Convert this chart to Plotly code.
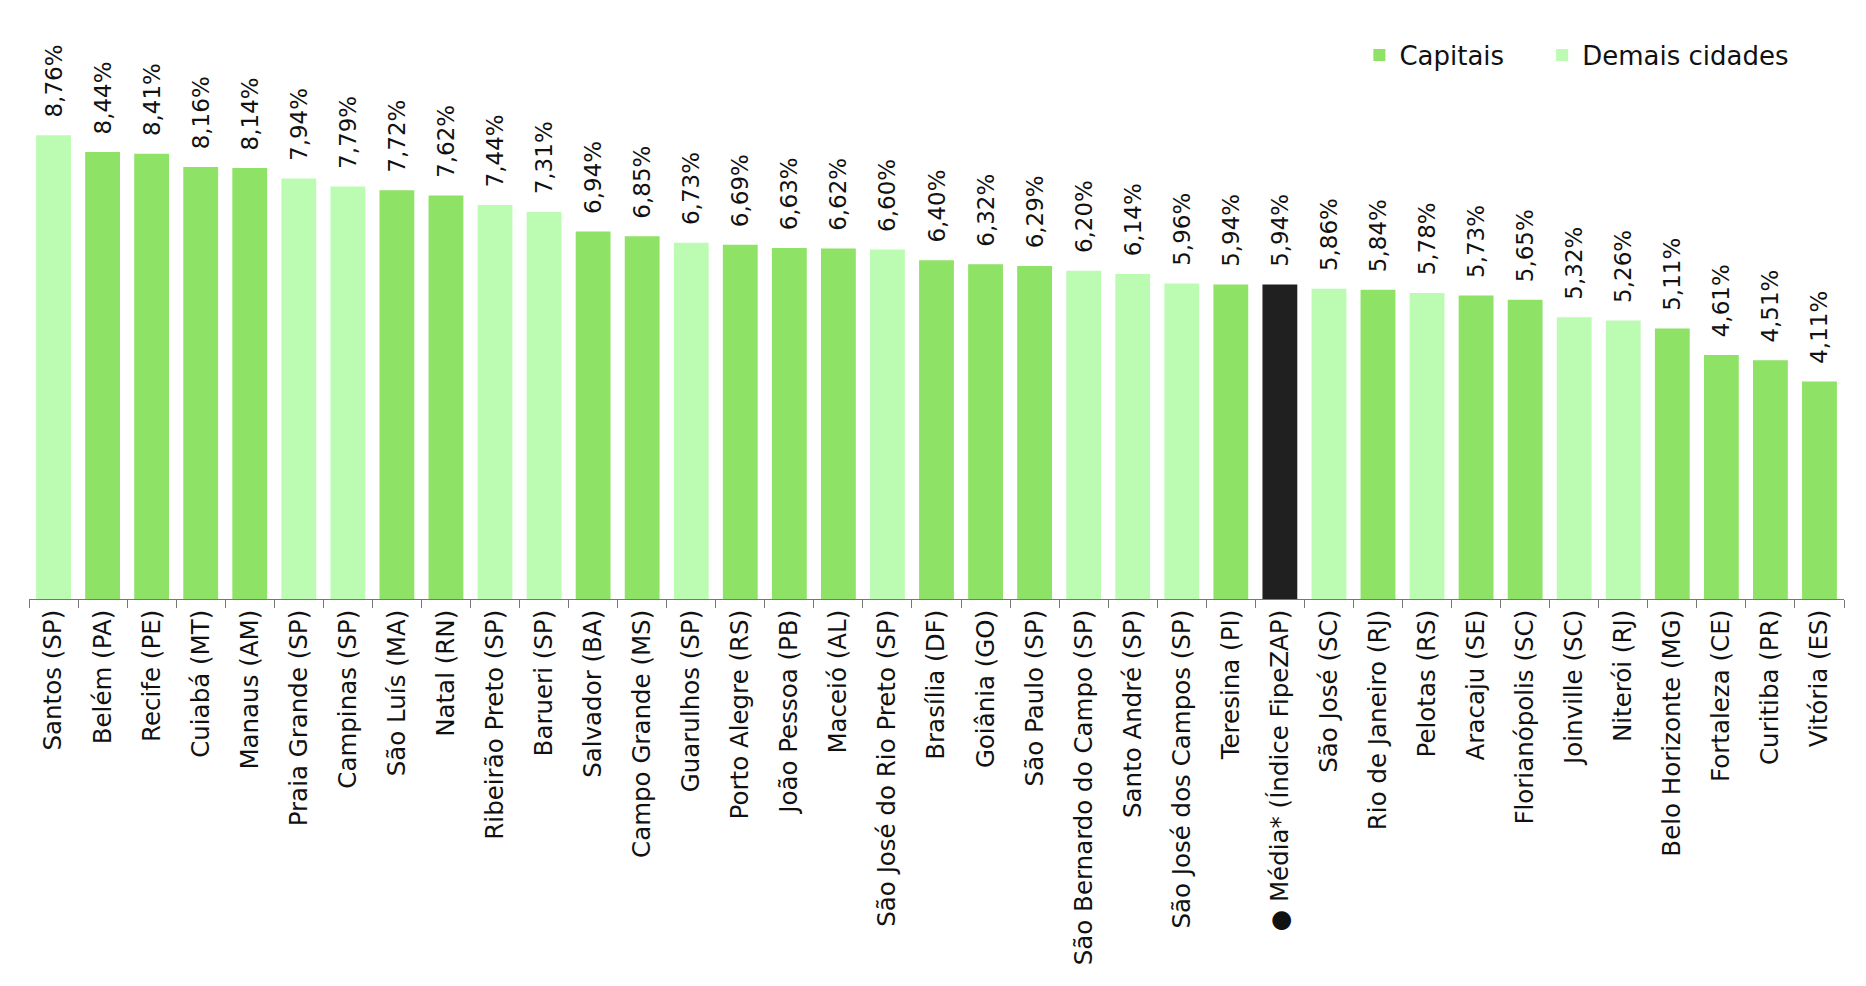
import plotly.graph_objects as go

cities = [
    "Santos (SP)", "Belém (PA)", "Recife (PE)", "Cuiabá (MT)", "Manaus (AM)",
    "Praia Grande (SP)", "Campinas (SP)", "São Luís (MA)", "Natal (RN)",
    "Ribeirão Preto (SP)", "Barueri (SP)", "Salvador (BA)", "Campo Grande (MS)",
    "Guarulhos (SP)", "Porto Alegre (RS)", "João Pessoa (PB)", "Maceió (AL)",
    "São José do Rio Preto (SP)", "Brasília (DF)", "Goiânia (GO)", "São Paulo (SP)",
    "São Bernardo do Campo (SP)", "Santo André (SP)", "São José dos Campos (SP)",
    "Teresina (PI)", "● Média* (Índice FipeZAP)", "São José (SC)",
    "Rio de Janeiro (RJ)", "Pelotas (RS)", "Aracaju (SE)", "Florianópolis (SC)",
    "Joinville (SC)", "Niterói (RJ)", "Belo Horizonte (MG)", "Fortaleza (CE)",
    "Curitiba (PR)", "Vitória (ES)",
]
values = [
    8.76, 8.44, 8.41, 8.16, 8.14, 7.94, 7.79, 7.72, 7.62, 7.44, 7.31, 6.94, 6.85,
    6.73, 6.69, 6.63, 6.62, 6.60, 6.40, 6.32, 6.29, 6.20, 6.14, 5.96, 5.94, 5.94,
    5.86, 5.84, 5.78, 5.73, 5.65, 5.32, 5.26, 5.11, 4.61, 4.51, 4.11,
]
# C = capital, D = demais cidades, M = média
groups = [
    "D", "C", "C", "C", "C", "D", "D", "C", "C", "D", "D", "C", "C",
    "D", "C", "C", "C", "D", "C", "C", "C", "D", "D", "D", "C", "M",
    "D", "C", "D", "C", "C", "D", "D", "C", "C", "C", "C",
]

group_names = {"C": "Capitais\u00a0\u00a0\u00a0\u00a0", "D": "Demais cidades", "M": "Média"}
group_colors = {"C": "#8ee265", "D": "#bcfcb2", "M": "#202020"}

FONT = "DejaVu Sans"
PAD = "\u00a0\u00a0"

fig = go.Figure()
for g in ["C", "D", "M"]:
    xs = [c for c, gg in zip(cities, groups) if gg == g]
    ys = [v for v, gg in zip(values, groups) if gg == g]
    fig.add_trace(go.Bar(
        x=xs, y=ys, name=group_names[g],
        marker=dict(color=group_colors[g], line=dict(width=0)),
        text=[PAD + f"{v:.2f}".replace(".", ",") + "%" for v in ys],
        textposition="outside", textangle=-90, constraintext="none",
        cliponaxis=False,
        textfont=dict(family=FONT, size=23, color="#111111"),
        showlegend=(g != "M"),
        hoverinfo="x+y",
    ))

fig.update_layout(
    width=1850, height=970,
    margin=dict(l=21, r=14, t=88, b=379),
    paper_bgcolor="white", plot_bgcolor="white",
    barmode="overlay", bargap=0.29,
    font=dict(family=FONT, size=23, color="#111111"),
    legend=dict(orientation="h", x=0.733, xanchor="left", y=1.0815, yanchor="middle",
                font=dict(family=FONT, size=26, color="#111111"),
                itemwidth=30, traceorder="normal"),
    xaxis=dict(
        categoryorder="array", categoryarray=cities, type="category",
        tickangle=-90, tickson="boundaries", ticks="outside", ticklen=8,
        tickcolor="#777777", showline=True, linecolor="#777777", linewidth=1,
        tickfont=dict(family=FONT, size=24.5, color="#111111"),
        showgrid=False, zeroline=False,
    ),
    yaxis=dict(range=[0, 9.5], visible=False, showgrid=False, zeroline=False),
)

fig.write_html("out.html")
